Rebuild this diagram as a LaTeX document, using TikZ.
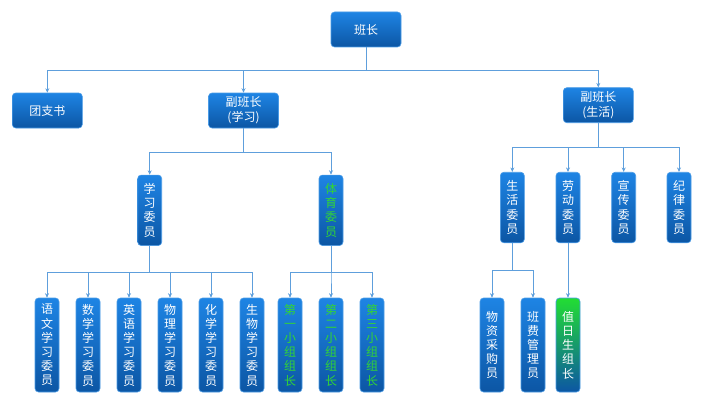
\documentclass[tikz,border=0pt]{standalone}
\usepackage{fontspec}
\setmainfont{Noto Sans CJK SC}
\usetikzlibrary{arrows.meta}
\definecolor{btop}{HTML}{1E84E4}
\definecolor{bbot}{HTML}{0C56A4}
\definecolor{bedge}{HTML}{4A9BE6}
\definecolor{gtop}{HTML}{22DD33}
\definecolor{gtxt}{HTML}{33D633}
\definecolor{lnk}{HTML}{5E9FDC}
\tikzset{
  box/.style={draw=bedge, line width=0.6pt, rounded corners=3.5pt, top color=btop, bottom color=bbot,
    text=white, inner sep=0pt, align=center, font=\fontsize{12}{14.2}\selectfont},
  hbox/.style={box, minimum width=70pt, minimum height=35pt, font=\fontsize{12}{15}\selectfont},
  vbox/.style={box, minimum width=24pt, minimum height=70.5pt, text width=24pt},
  tbox/.style={box, minimum width=24pt, minimum height=94pt, text width=24pt},
  greenbox/.style={top color=gtop, bottom color=bbot},
  gtext/.style={text=gtxt},
  conn/.style={draw=lnk, line width=0.7pt, -{Stealth[length=4.5pt,width=4pt]}},
  plain/.style={draw=lnk, line width=0.7pt}
}
\begin{document}
\begin{tikzpicture}[x=1pt,y=-1pt]
\useasboundingbox (0,0) rectangle (703,404);
% level 0
\node[hbox] (bz) at (366,29.5) {班长};
% level 1
\node[hbox] (tzs) at (47.3,110.5) {团支书};
\node[hbox] (fxx) at (243.5,110.5) {副班长\\(学习)};
\node[hbox] (fsh) at (598.3,105.2) {副班长\\(生活)};
% level 2
\node[vbox] (xx) at (149.7,210.3) {学\\习\\委\\员};
\node[vbox, gtext] (ty) at (331,210.3) {体\\育\\委\\员};
\node[vbox] (sh) at (512.3,207.5) {生\\活\\委\\员};
\node[vbox] (ld) at (568,207.5) {劳\\动\\委\\员};
\node[vbox] (xc) at (623.7,207.5) {宣\\传\\委\\员};
\node[vbox] (jl) at (679,207.5) {纪\\律\\委\\员};
% level 3
\node[tbox] (yw) at (47,345) {语\\文\\学\\习\\委\\员};
\node[tbox] (sx) at (88,345) {数\\学\\学\\习\\委\\员};
\node[tbox] (yy) at (129,345) {英\\语\\学\\习\\委\\员};
\node[tbox] (wl) at (170,345) {物\\理\\学\\习\\委\\员};
\node[tbox] (hx) at (211,345) {化\\学\\学\\习\\委\\员};
\node[tbox] (sw) at (252,345) {生\\物\\学\\习\\委\\员};
\node[tbox, gtext] (d1) at (290,345) {第\\一\\小\\组\\组\\长};
\node[tbox, gtext] (d2) at (331,345) {第\\二\\小\\组\\组\\长};
\node[tbox, gtext] (d3) at (372,345) {第\\三\\小\\组\\组\\长};
\node[tbox] (wz) at (492,345) {物\\资\\采\\购\\员};
\node[tbox] (bf) at (533,345) {班\\费\\管\\理\\员};
\node[tbox, greenbox] (zr) at (568,345) {值\\日\\生\\组\\长};
% bus coordinates
\coordinate (b0) at (0,70.3);
\coordinate (b1) at (0,152.3);
\coordinate (b2) at (0,147.3);
\coordinate (b3) at (0,272.3);
\coordinate (b4) at (0,272.3);
\coordinate (b5) at (0,270);
% connectors
\foreach \c in {tzs,fxx,fsh} \draw[conn] (bz.south) -- (bz.south |- b0) -| (\c.north);
\foreach \c in {xx,ty} \draw[conn] (fxx.south) -- (fxx.south |- b1) -| (\c.north);
\foreach \c in {sh,ld,xc,jl} \draw[conn] (fsh.south) -- (fsh.south |- b2) -| (\c.north);
\foreach \c in {yw,sx,yy,wl,hx,sw} \draw[conn] (xx.south) -- (xx.south |- b3) -| (\c.north);
\foreach \c in {d1,d2,d3} \draw[conn] (ty.south) -- (ty.south |- b4) -| (\c.north);
\foreach \c in {wz,bf} \draw[conn] (sh.south) -- (sh.south |- b5) -| (\c.north);
\draw[conn] (ld.south) -- (zr.north);
\end{tikzpicture}
\end{document}
